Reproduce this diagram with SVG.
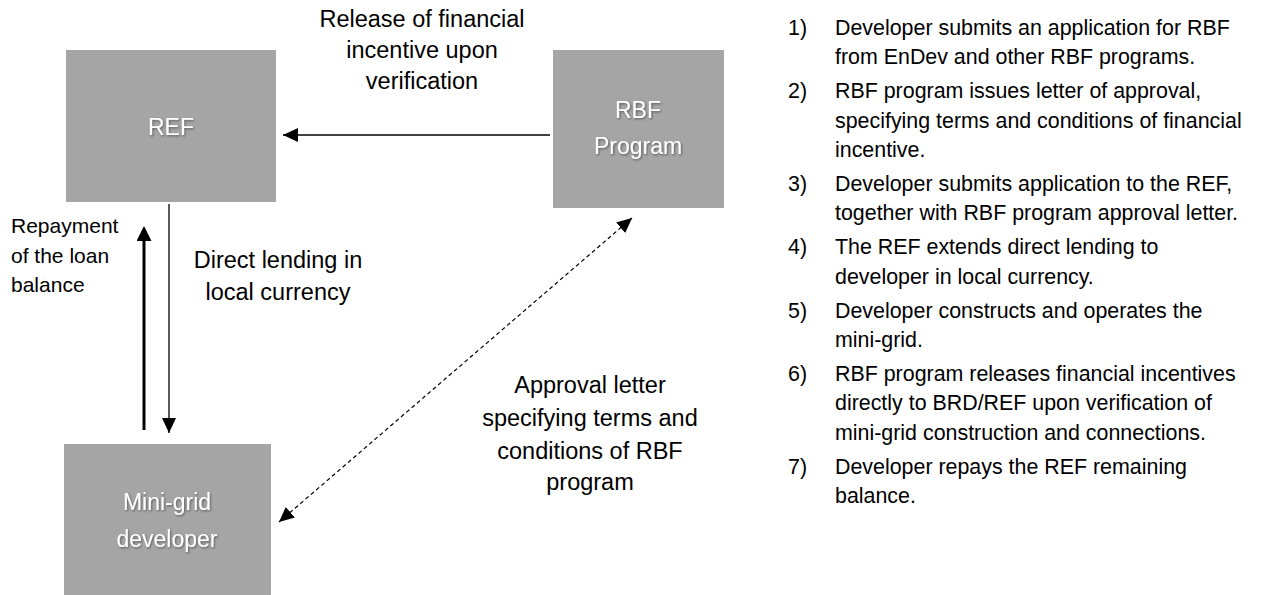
<svg xmlns="http://www.w3.org/2000/svg" width="1262" height="595" viewBox="0 0 1262 595">
  <defs>
    <style>
      text { font-family: "Liberation Sans", Arial, sans-serif; fill: #000; }
      .box { fill: #a5a5a5; }
      .box-label { fill: #ffffff; font-size: 23px; text-anchor: middle; filter: url(#shadow); }
      .label { font-size: 23.5px; text-anchor: middle; }
      .side { font-size: 21px; }
      .steps { font-size: 21.4px; }
      .flow { fill: none; stroke: #000; stroke-width: 1.5; }
      .thin { fill: none; stroke: #000; stroke-width: 1.3; }
      .thick { fill: none; stroke: #000; stroke-width: 3; }
      .dashed { fill: none; stroke: #000; stroke-width: 1.2; stroke-dasharray: 4 3; }
    </style>
    <filter id="shadow" x="-20%" y="-20%" width="140%" height="140%">
      <feDropShadow dx="1" dy="1.2" stdDeviation="0.8" flood-color="#000" flood-opacity="0.45"/>
    </filter>
    <!-- solid triangular arrowhead, tip on the line end -->
    <marker id="head" markerUnits="userSpaceOnUse" markerWidth="16" markerHeight="14" refX="15" refY="7" orient="auto-start-reverse">
      <path d="M0,0 L15,7 L0,14 z" fill="#000"/>
    </marker>
    <!-- arrowhead for the heavy line: tip sits 10px past the line end -->
    <marker id="head-thick" markerUnits="userSpaceOnUse" markerWidth="16" markerHeight="15" refX="5" refY="7.5" orient="auto">
      <path d="M0,0 L15,7.5 L0,15 z" fill="#000"/>
    </marker>
  </defs>

  <rect width="1262" height="595" fill="#ffffff"/>

  <!-- nodes -->
  <g id="ref">
    <rect class="box" x="66" y="50" width="210" height="152"/>
    <text class="box-label" x="171" y="135">REF</text>
  </g>

  <g id="rbf-program">
    <rect class="box" x="553" y="50" width="171" height="158"/>
    <text class="box-label" x="638" y="118">RBF</text>
    <text class="box-label" x="638" y="154">Program</text>
  </g>

  <g id="mini-grid-developer">
    <rect class="box" x="64" y="444" width="207" height="160"/>
    <text class="box-label" x="167" y="510">Mini-grid</text>
    <text class="box-label" x="167" y="547">developer</text>
  </g>

  <!-- connectors -->
  <g id="connectors">
    <line class="flow" x1="550" y1="135" x2="283" y2="135" marker-end="url(#head)"/>
    <line class="thin" x1="169" y1="204" x2="169" y2="433" marker-end="url(#head)"/>
    <line class="thick" x1="144" y1="430" x2="144" y2="236" marker-end="url(#head-thick)"/>
    <line class="dashed" x1="279" y1="522" x2="632" y2="218" marker-start="url(#head)" marker-end="url(#head)"/>
  </g>

  <!-- connector labels -->
  <g id="labels">
    <text class="label" x="422" y="27">Release of financial</text>
    <text class="label" x="422" y="58">incentive upon</text>
    <text class="label" x="422" y="89">verification</text>

    <text class="side" x="11" y="233">Repayment</text>
    <text class="side" x="11" y="263">of the loan</text>
    <text class="side" x="11" y="292">balance</text>

    <text class="label" x="278" y="268">Direct lending in</text>
    <text class="label" x="278" y="300">local currency</text>

    <text class="label" x="590" y="393">Approval letter</text>
    <text class="label" x="590" y="426">specifying terms and</text>
    <text class="label" x="590" y="459">conditions of RBF</text>
    <text class="label" x="590" y="490">program</text>
  </g>

  <!-- numbered process steps -->
  <g id="steps" class="steps">
    <text x="788" y="35">1)</text>
    <text x="835" y="35">Developer submits an application for RBF</text>
    <text x="835" y="64.2">from EnDev and other RBF programs.</text>

    <text x="788" y="98.4">2)</text>
    <text x="835" y="98.4">RBF program issues letter of approval,</text>
    <text x="835" y="127.6">specifying terms and conditions of financial</text>
    <text x="835" y="156.8">incentive.</text>

    <text x="788" y="191">3)</text>
    <text x="835" y="191">Developer submits application to the REF,</text>
    <text x="835" y="220.2">together with RBF program approval letter.</text>

    <text x="788" y="254.4">4)</text>
    <text x="835" y="254.4">The REF extends direct lending to</text>
    <text x="835" y="283.6">developer in local currency.</text>

    <text x="788" y="317.8">5)</text>
    <text x="835" y="317.8">Developer constructs and operates the</text>
    <text x="835" y="347">mini-grid.</text>

    <text x="788" y="381.2">6)</text>
    <text x="835" y="381.2">RBF program releases financial incentives</text>
    <text x="835" y="410.4">directly to BRD/REF upon verification of</text>
    <text x="835" y="439.6">mini-grid construction and connections.</text>

    <text x="788" y="473.8">7)</text>
    <text x="835" y="473.8">Developer repays the REF remaining</text>
    <text x="835" y="503">balance.</text>
  </g>
</svg>
